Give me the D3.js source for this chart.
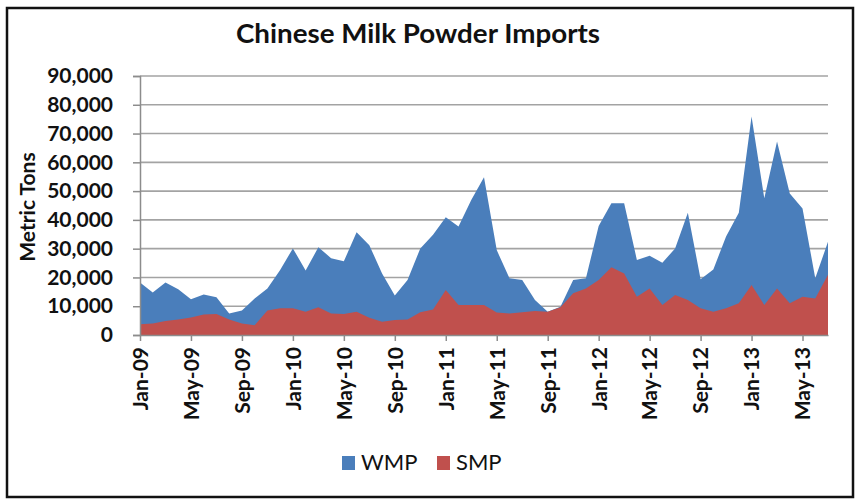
<!DOCTYPE html>
<html>
<head>
<meta charset="utf-8">
<script src="https://cdn.jsdelivr.net/npm/d3@7"></script>
<style>
  body { margin: 0; background: #fff; }
  svg { display: block; }
</style>
</head>
<body>
<div id="chart"></div>
<script>
const months = ["Jan-09","Feb-09","Mar-09","Apr-09","May-09","Jun-09","Jul-09","Aug-09","Sep-09","Oct-09","Nov-09","Dec-09",
  "Jan-10","Feb-10","Mar-10","Apr-10","May-10","Jun-10","Jul-10","Aug-10","Sep-10","Oct-10","Nov-10","Dec-10",
  "Jan-11","Feb-11","Mar-11","Apr-11","May-11","Jun-11","Jul-11","Aug-11","Sep-11","Oct-11","Nov-11","Dec-11",
  "Jan-12","Feb-12","Mar-12","Apr-12","May-12","Jun-12","Jul-12","Aug-12","Sep-12","Oct-12","Nov-12","Dec-12",
  "Jan-13","Feb-13","Mar-13","Apr-13","May-13","Jun-13","Jul-13"];

// whole milk powder, metric tons
const wmp = [18200,14800,18200,15900,12400,14100,13100,7500,8500,12700,16200,22600,
  30100,22400,30500,26700,25600,35700,31200,21400,13700,19100,30100,34800,
  40900,37700,46900,54800,29500,19700,19100,12200,8100,9800,19100,19700,
  37900,45800,45800,26100,27500,25100,30100,42500,19400,22800,34200,42500,
  75900,47500,67200,49200,44000,19700,32400];

// skim milk powder, metric tons
const smp = [3700,4000,4900,5400,6100,7100,7300,5400,4000,3400,8500,9300,
  9300,8100,9600,7500,7300,8100,6000,4600,5200,5400,7900,8900,
  15600,10400,10400,10400,7800,7500,7900,8300,8100,9600,14500,16200,
  19100,23500,21400,13300,16200,10400,13900,12200,9300,8100,9300,11000,
  17400,10400,16200,11000,13300,12700,20900];

const yTicks = [0,10000,20000,30000,40000,50000,60000,70000,80000,90000];
const xTickLabels = ["Jan-09","May-09","Sep-09","Jan-10","May-10","Sep-10","Jan-11","May-11","Sep-11","Jan-12","May-12","Sep-12","Jan-13","May-13"];

const width = 860, height = 501;
const plotLeft = 140, plotRight = 828, plotTop = 76, plotBottom = 335;
const blue = "#4a7ebb", red = "#c0504d", grid = "#a3a3a3";
const font = "Lato, 'Open Sans', sans-serif";

const svg = d3.select("#chart").append("svg")
  .attr("width", width)
  .attr("height", height);

// outer frame
svg.append("rect")
  .attr("x", 7).attr("y", 8)
  .attr("width", 846).attr("height", 489)
  .attr("fill", "#fff")
  .attr("stroke", "#111")
  .attr("stroke-width", 2.5);

const x = d3.scalePoint().domain(months).range([plotLeft, plotRight]);
const y = d3.scaleLinear().domain([0, 90000]).range([plotBottom, plotTop]);

// gridlines
svg.append("g")
  .selectAll("line")
  .data(yTicks.slice(1))
  .join("line")
  .attr("x1", plotLeft).attr("x2", plotRight)
  .attr("y1", d => y(d)).attr("y2", d => y(d))
  .attr("stroke", grid)
  .attr("stroke-width", 1.6);

const area = vals => d3.area()
  .x((d, i) => x(months[i]))
  .y0(y(0))
  .y1(d => y(d))(vals);

svg.append("path").attr("d", area(wmp)).attr("fill", blue);
svg.append("path").attr("d", area(smp)).attr("fill", red);

// y axis
const yAxis = svg.append("g")
  .attr("transform", `translate(${plotLeft},0)`)
  .call(d3.axisLeft(y).tickValues(yTicks).tickSize(7).tickPadding(20).tickFormat(d3.format(",")));
yAxis.select(".domain").attr("stroke", "#8c8c8c").attr("stroke-width", 1.5);
yAxis.selectAll(".tick line").attr("stroke", "#8c8c8c").attr("stroke-width", 1.5);
yAxis.selectAll("text")
  .attr("font-family", font)
  .attr("font-weight", "bold")
  .attr("font-size", 21)
  .attr("fill", "#111");

// x axis
const xAxis = svg.append("g")
  .attr("transform", `translate(0,${plotBottom})`)
  .call(d3.axisBottom(x).tickValues(xTickLabels).tickSize(6).tickSizeOuter(0));
xAxis.select(".domain").attr("stroke", "#8c8c8c").attr("stroke-width", 1.5);
xAxis.selectAll(".tick line").attr("stroke", "#8c8c8c").attr("stroke-width", 1.5);
xAxis.selectAll("text")
  .attr("font-family", font)
  .attr("font-weight", "bold")
  .attr("font-size", 21)
  .attr("fill", "#111")
  .attr("text-anchor", "end")
  .attr("dy", "0.35em")
  .attr("transform", "translate(0,12) rotate(-90)")
  .attr("x", 0).attr("y", 0);

// axis title
svg.append("text")
  .attr("transform", "translate(35,207) rotate(-90)")
  .attr("text-anchor", "middle")
  .attr("font-family", font)
  .attr("font-weight", "bold")
  .attr("font-size", 21)
  .attr("fill", "#111")
  .text("Metric Tons");

// title
svg.append("text")
  .attr("x", 418).attr("y", 43)
  .attr("text-anchor", "middle")
  .attr("font-family", font)
  .attr("font-weight", "bold")
  .attr("font-size", 27)
  .attr("textLength", 364)
  .attr("lengthAdjust", "spacingAndGlyphs")
  .attr("fill", "#111")
  .text("Chinese Milk Powder Imports");

// legend
const legend = svg.append("g").attr("transform", "translate(342,456)");
const series = [["WMP", blue], ["SMP", red]];
series.forEach(([name, c], i) => {
  const g = legend.append("g").attr("transform", `translate(${i * 95},0)`);
  g.append("rect").attr("width", 13).attr("height", 14).attr("fill", c);
  g.append("text")
    .attr("x", 19).attr("y", 14)
    .attr("font-family", font)
    .attr("font-size", 22)
    .attr("fill", "#111")
    .text(name);
});
</script>
</body>
</html>
